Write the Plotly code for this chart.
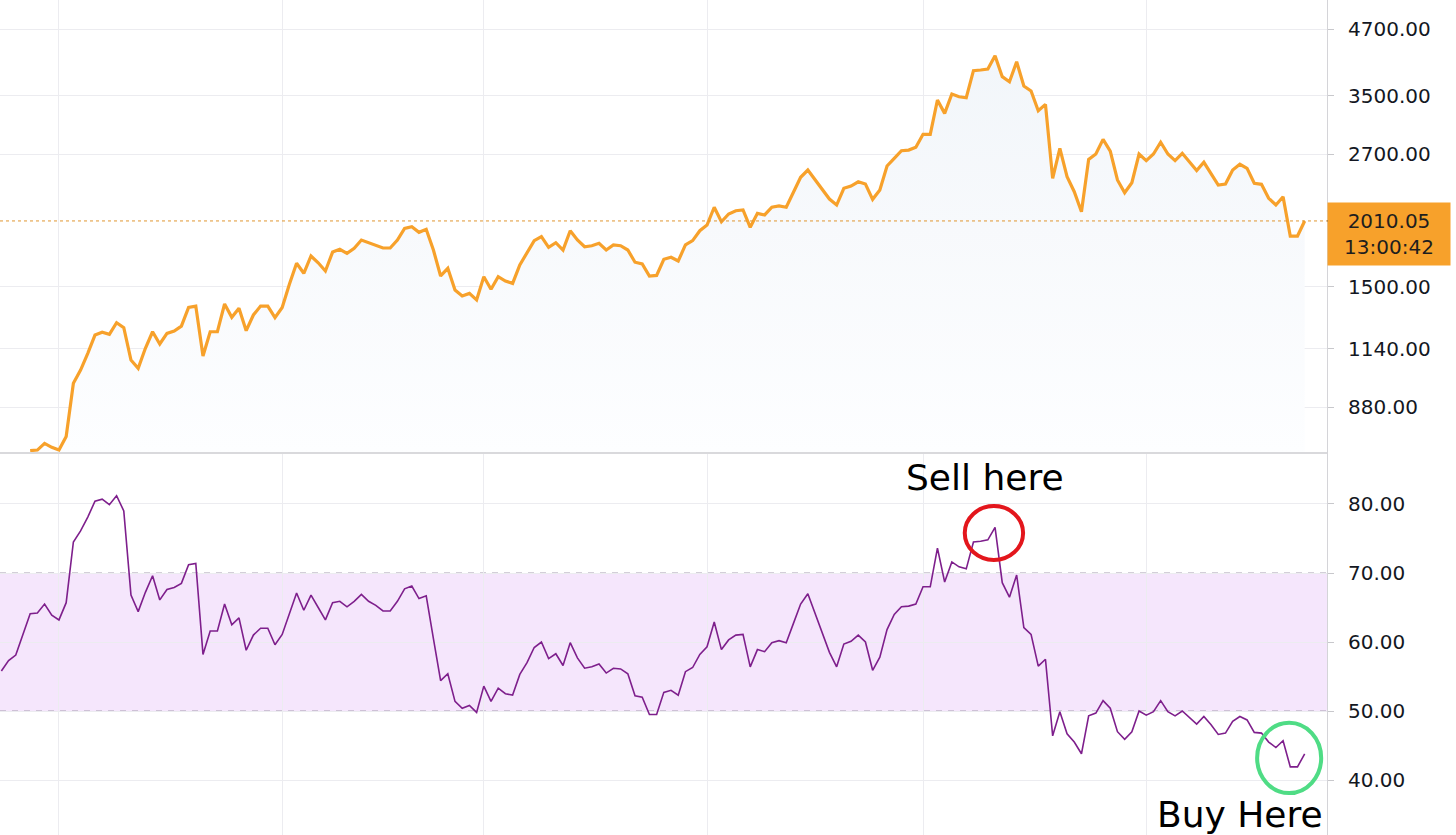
import math
import pandas as pd
import plotly.graph_objects as go
from plotly.subplots import make_subplots

# ---------------- data ----------------
price_start = "2020-12-28"
price = [726, 728, 750, 737, 728, 773, 979, 1038, 1118, 1212,
         1227, 1216, 1280, 1252, 1085, 1046, 1143, 1230, 1165, 1221,
         1234, 1261, 1370, 1378, 1105, 1230, 1230, 1391, 1311, 1365,
         1236, 1325, 1378, 1378, 1309, 1370, 1518, 1666, 1594, 1721,
         1670, 1610, 1751, 1773, 1741, 1780, 1847, 1825, 1807, 1783,
         1783, 1847, 1945, 1959, 1911, 1937, 1767, 1575, 1629, 1480,
         1441, 1458, 1416, 1570, 1485, 1570, 1540, 1524, 1654, 1741,
         1842, 1875, 1788, 1825, 1767, 1925, 1847, 1793, 1801, 1820,
         1767, 1807, 1801, 1767, 1674, 1661, 1575, 1579, 1696, 1711,
         1683, 1807, 1842, 1925, 1974, 2136, 2003, 2073, 2103, 2110,
         1954, 2079, 2064, 2136, 2148, 2136, 2288, 2439, 2519, 2410,
         2305, 2215, 2157, 2323, 2346, 2391, 2367, 2212, 2305, 2564,
         2653, 2744, 2752, 2786, 2951, 2951, 3436, 3238, 3528, 3486,
         3470, 3912, 3924, 3942, 4181, 3810, 3726, 4071, 3655, 3575,
         3276, 3370, 2428, 2773, 2446, 2288, 2094, 2641, 2704, 2886,
         2740, 2410, 2278, 2381, 2704, 2626, 2704, 2849, 2704, 2626,
         2713, 2614, 2512, 2607, 2475, 2357, 2367, 2519, 2584, 2538,
         2375, 2364, 2222, 2157, 2238, 1880, 1880, 2010.05]

rsi_start = "2020-12-24"
rsi = [55.8, 57.3, 58.1, 61.2,
       64.1, 64.2, 65.5, 63.9, 63.2, 65.7, 74.5, 76.1, 78.1, 80.4,
       80.7, 79.9, 81.2, 79.0, 66.8, 64.4, 67.2, 69.6, 66.1, 67.6,
       67.9, 68.5, 71.2, 71.4, 58.2, 61.6, 61.6, 65.5, 62.5, 63.5,
       58.8, 61.0, 62.0, 62.0, 59.6, 61.1, 64.2, 67.1, 64.6, 66.8,
       65.0, 63.2, 65.7, 65.9, 65.1, 65.9, 66.9, 65.9, 65.3, 64.5,
       64.5, 65.9, 67.7, 68.1, 66.3, 66.7, 60.5, 54.4, 55.4, 51.4,
       50.4, 50.8, 49.8, 53.6, 51.4, 53.3, 52.5, 52.3, 55.3, 57.0,
       59.2, 60.0, 57.6, 58.3, 56.6, 59.9, 57.7, 56.2, 56.4, 56.8,
       55.5, 56.2, 56.1, 55.4, 52.2, 52.0, 49.5, 49.5, 52.7, 53.0,
       52.3, 55.7, 56.3, 58.2, 59.3, 62.9, 58.9, 60.3, 61.0, 61.1,
       56.4, 58.9, 58.6, 59.9, 60.2, 59.9, 62.7, 65.5, 67.0, 64.2,
       61.1, 58.5, 56.4, 59.7, 60.1, 61.0, 60.0, 55.9, 57.8, 61.8,
       64.0, 65.1, 65.2, 65.5, 68.0, 68.0, 73.6, 68.7, 71.6, 70.9,
       70.6, 74.5, 74.6, 74.8, 76.6, 68.6, 66.5, 69.7, 62.1, 61.1,
       56.5, 57.5, 46.4, 49.9, 46.7, 45.5, 43.8, 49.3, 49.7, 51.5,
       50.4, 47.0, 45.9, 47.0, 50.0, 49.4, 49.9, 51.5, 49.9, 49.3,
       50.0, 49.0, 48.1, 49.2, 48.0, 46.6, 46.8, 48.5, 49.2, 48.7,
       46.9, 46.8, 45.5, 44.7, 45.7, 41.9, 41.9, 43.8]

price_ticks = [880, 1140, 1500, 2700, 3500, 4700]
rsi_ticks = [40, 50, 60, 70, 80]
rsi_band = [50, 70]
price_time_label = "13:00:42"

price_dates = pd.date_range(price_start, periods=len(price), freq="D")
rsi_dates = pd.date_range(rsi_start, periods=len(rsi), freq="D")

# ---------------- styling ----------------
ORANGE = "#f7a12b"
PURPLE = "#7e1f8c"
GRID = "#ececf0"
FONT = "DejaVu Sans"
PRICE_RANGE_LOG = [2.8565, 3.7285]

fig = make_subplots(rows=2, cols=1, shared_xaxes=True, vertical_spacing=0,
                    row_heights=[453, 382])

fig.add_trace(go.Scatter(
    x=price_dates, y=price, mode="lines",
    line=dict(color=ORANGE, width=3.2),
    fill="tozeroy",
    fillgradient=dict(type="vertical",
                      start=10 ** PRICE_RANGE_LOG[0], stop=10 ** PRICE_RANGE_LOG[1],
                      colorscale=[[0, "rgb(253,254,255)"], [0.5, "rgb(247,249,252)"],
                                  [1, "rgb(240,245,249)"]]),
    hoverinfo="skip", showlegend=False), row=1, col=1)

fig.add_trace(go.Scatter(
    x=rsi_dates, y=rsi, mode="lines",
    line=dict(color=PURPLE, width=1.6),
    hoverinfo="skip", showlegend=False), row=2, col=1)

x_range = ["2020-12-23 19:26", "2021-06-26 02:24"]

for ax in ("xaxis", "xaxis2"):
    fig.layout[ax].update(
        range=x_range, type="date", showgrid=True, gridcolor=GRID, gridwidth=1,
        tick0="2021-01-01", dtick="M1", showticklabels=False, ticks="",
        zeroline=False, showline=False)

fig.update_yaxes(
    type="log", range=PRICE_RANGE_LOG, side="right",
    tickvals=price_ticks, tickformat=".2f",
    showgrid=True, gridcolor=GRID, zeroline=False,
    showline=True, linecolor="#d4d4d8", linewidth=1,
    ticks="outside", ticklen=6, tickcolor="#c8c8cc",
    ticklabelstandoff=10,
    tickfont=dict(family=FONT, size=20, color="#131722"),
    automargin=False, row=1, col=1)

fig.update_yaxes(
    range=[32.03, 87.39], side="right",
    tickvals=rsi_ticks, tickformat=".2f",
    showgrid=True, gridcolor=GRID, zeroline=False,
    showline=True, linecolor="#d4d4d8", linewidth=1,
    ticks="outside", ticklen=6, tickcolor="#c8c8cc",
    ticklabelstandoff=10,
    tickfont=dict(family=FONT, size=20, color="#131722"),
    automargin=False, row=2, col=1)

shapes = [
    # RSI band
    dict(type="rect", xref="x2 domain", yref="y2", x0=0, x1=1,
         y0=rsi_band[0], y1=rsi_band[1], fillcolor="#f5e6fc",
         line=dict(width=0), layer="below"),
    dict(type="line", xref="x2 domain", yref="y2", x0=0, x1=1,
         y0=rsi_band[1], y1=rsi_band[1], layer="below",
         line=dict(color="#a79cb0", width=1, dash="6px,6px")),
    dict(type="line", xref="x2 domain", yref="y2", x0=0, x1=1,
         y0=rsi_band[0], y1=rsi_band[0], layer="below",
         line=dict(color="#a79cb0", width=1, dash="6px,6px")),
    # current price line
    dict(type="line", xref="x domain", yref="y", x0=0, x1=1,
         y0=price[-1], y1=price[-1],
         line=dict(color="#e09630", width=1, dash="dot")),
    # small dark tick at price level on the axis
    dict(type="line", xref="paper", yref="y", x0=1, x1=1 + 7 / 1327,
         y0=price[-1], y1=price[-1],
         line=dict(color="#131722", width=1)),
    # pane separator
    dict(type="line", xref="paper", yref="paper", x0=0, x1=1,
         y0=382 / 835, y1=382 / 835,
         line=dict(color="#d9d9dc", width=2)),
    # red circle (sell)
    dict(type="circle", xref="x2", yref="y2",
         x0="2021-05-06 19:00", x1="2021-05-14 21:30", y0=71.9, y1=79.7,
         line=dict(color="#e3161c", width=4)),
    # green circle (buy)
    dict(type="circle", xref="x2", yref="y2",
         x0="2021-06-16 09:30", x1="2021-06-25 07:00", y0=38.1, y1=48.3,
         line=dict(color="#4fdc85", width=4)),
]

annotations = [
    dict(text="Sell here", xref="x2", yref="y2", x="2021-05-09 14:00", y=83.9,
         showarrow=False, font=dict(family=FONT, size=36, color="#000000"),
         xanchor="center", yanchor="middle"),
    dict(text="Buy Here", xref="x2", yref="y2", x="2021-06-14 00:00", y=35.0,
         showarrow=False, font=dict(family=FONT, size=36, color="#000000"),
         xanchor="center", yanchor="middle"),
    dict(text=f"{price[-1]:.2f}<br>{price_time_label}", xref="paper", yref="y",
         x=1, y=math.log10(price[-1]), xanchor="left", yanchor="middle",
         yshift=-13, showarrow=False, align="center",
         width=114, height=54, borderpad=4, bgcolor=ORANGE,
         font=dict(family=FONT, size=20, color="#1e1e1e")),
]

fig.update_layout(
    width=1456, height=835,
    margin=dict(l=0, r=129, t=0, b=0),
    paper_bgcolor="white", plot_bgcolor="white",
    shapes=shapes, annotations=annotations,
    showlegend=False,
)

fig.write_html(
    "out.html",
    config={"displayModeBar": False},
    post_script="document.body.style.margin='0';document.body.style.overflow='hidden';",
)
